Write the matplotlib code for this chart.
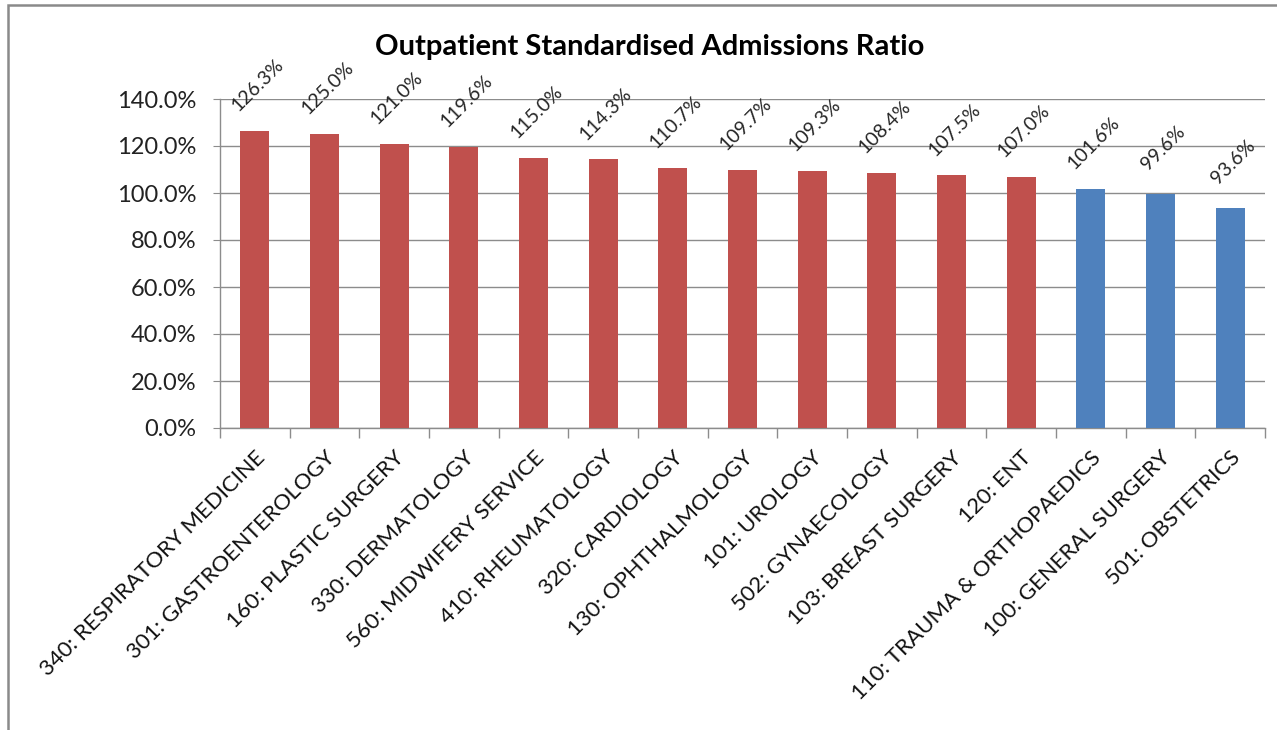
import numpy as np
import matplotlib
matplotlib.use('Agg')
import matplotlib.pyplot as plt
from matplotlib.patches import Rectangle
from matplotlib.ticker import FuncFormatter, FixedLocator

plt.rcParams['font.family'] = ['Lato', 'DejaVu Sans']

specialties = ['340: RESPIRATORY MEDICINE', '301: GASTROENTEROLOGY', '160: PLASTIC SURGERY',
               '330: DERMATOLOGY', '560: MIDWIFERY SERVICE', '410: RHEUMATOLOGY',
               '320: CARDIOLOGY', '130: OPHTHALMOLOGY', '101: UROLOGY', '502: GYNAECOLOGY',
               '103: BREAST SURGERY', '120: ENT', '110: TRAUMA & ORTHOPAEDICS',
               '100: GENERAL SURGERY', '501: OBSTETRICS']
ratio = [126.3, 125.0, 121.0, 119.6, 115.0, 114.3, 110.7, 109.7, 109.3, 108.4,
         107.5, 107.0, 101.6, 99.6, 93.6]
n_red = 12

red = '#C0504D'
blue = '#4F81BD'
grid_col = '#8C8C8C'

fig = plt.figure(figsize=(12.77, 7.30), dpi=100)
ax = fig.add_axes([220/1277, 1-428/730, 1045/1277, 329/730])

x = np.arange(len(ratio))
colors = [red if i < n_red else blue for i in range(len(ratio))]
ax.bar(x, ratio, width=0.42, color=colors, zorder=3)

for xi, v in zip(x, ratio):
    ax.annotate('%.1f%%' % v, (xi, v), xytext=(2, 33), textcoords='offset points',
                ha='center', va='center', rotation=45, fontsize=14, color='#262626')

ax.set_xlim(-0.5, len(ratio) - 0.5)
ax.set_ylim(0, 140)
ax.set_yticks(np.arange(0, 141, 20))
ax.yaxis.set_major_formatter(FuncFormatter(lambda v, p: '%.1f%%' % v))
ax.yaxis.grid(True, color=grid_col, linewidth=1.0, zorder=0)
ax.tick_params(axis='y', length=5, color=grid_col, labelsize=17, labelcolor='#222222', pad=12)

ax.set_xticks(x)
ax.set_xticklabels(specialties, rotation=45, ha='right', rotation_mode='anchor',
                   fontsize=16, color='#111111')
ax.tick_params(axis='x', which='major', length=0, pad=14)
ax.xaxis.set_minor_locator(FixedLocator(np.arange(-0.5, len(ratio), 1.0)))
ax.tick_params(axis='x', which='minor', length=7, color=grid_col, width=1.0)

for s in ['top', 'right']:
    ax.spines[s].set_visible(False)
for s in ['left', 'bottom']:
    ax.spines[s].set_color(grid_col)
    ax.spines[s].set_linewidth(1.0)

fig.text(650/1277, 1-47/730, 'Outpatient Standardised Admissions Ratio',
         ha='center', va='center', fontsize=21, fontweight='bold')

fig.patches.append(Rectangle((8/1277, -0.1), 1.2, 1 - 5/730 + 0.1, transform=fig.transFigure,
                             fill=False, edgecolor='#8A8A8A', linewidth=1.8))

fig.savefig('out.png', dpi=100)
